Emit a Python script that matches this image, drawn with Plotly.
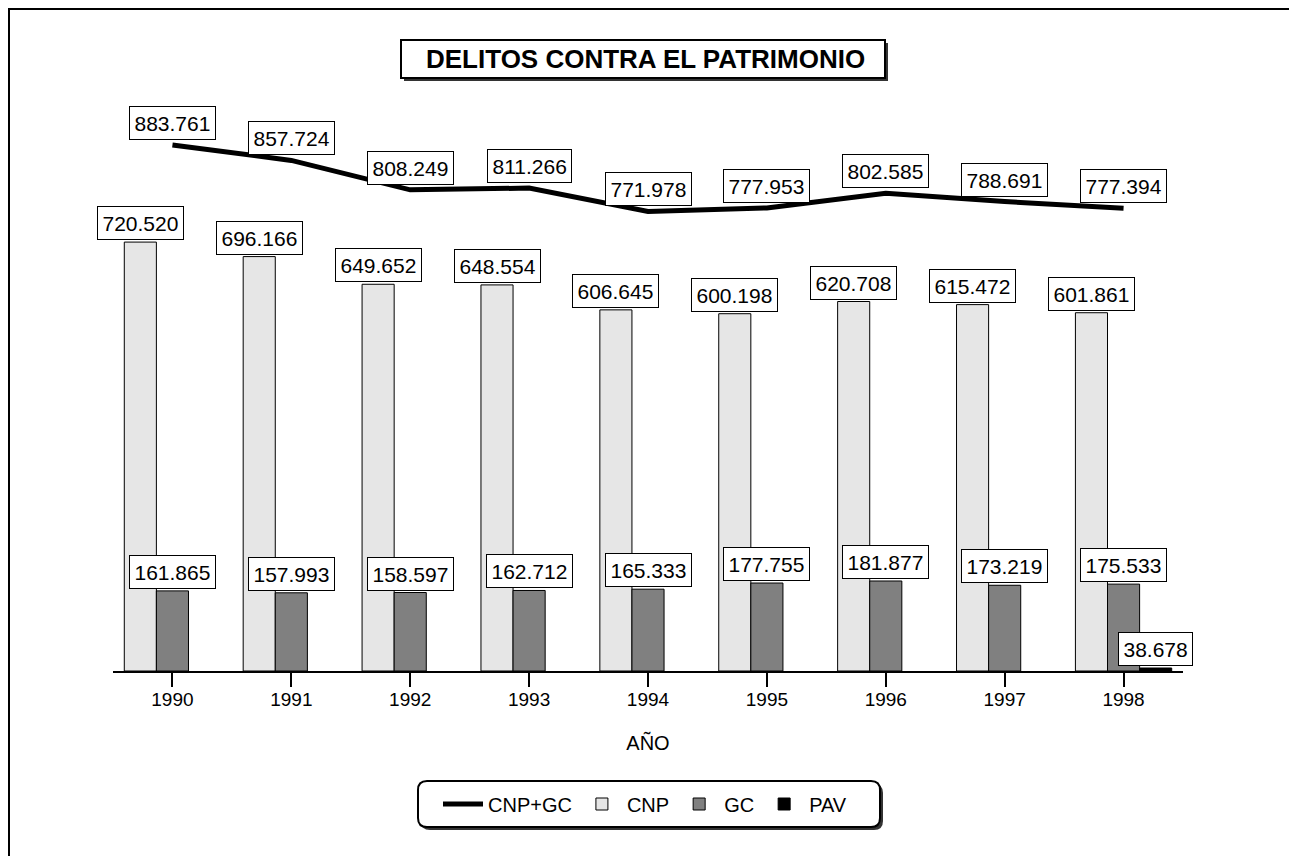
import plotly.graph_objects as go

# data (counts per year)
years = ["1990", "1991", "1992", "1993", "1994", "1995", "1996", "1997", "1998"]
cnp_gc = [883761, 857724, 808249, 811266, 771978, 777953, 802585, 788691, 777394]
cnp = [720520, 696166, 649652, 648554, 606645, 600198, 620708, 615472, 601861]
gc = [161865, 157993, 158597, 162712, 165333, 177755, 181877, 173219, 175533]
pav = [None, None, None, None, None, None, None, None, 38678]

# page is 1297x864 but the body has an 8px margin
OFF = 8
W, H = 1297 - OFF, 864 - 2 * OFF
FONT = "Liberation Sans, Arial, sans-serif"


def fx(px):
    return (px - OFF) / W


def fy(py):
    return 1 - (py - OFF) / H


def fmt(v):
    return f"{v:,}".replace(",", ".")


BW = 0.27  # bar width in category units

fig = go.Figure()

fig.add_trace(go.Scatter(
    x=years, y=cnp_gc, name="CNP+GC", mode="lines",
    line=dict(color="black", width=5), yaxis="y",
))
fig.add_trace(go.Bar(
    x=years, y=cnp, name="CNP", width=BW, offset=-1.5 * BW,
    marker=dict(color="#e6e6e6", line=dict(color="black", width=1)), yaxis="y",
))
fig.add_trace(go.Bar(
    x=years, y=gc, name="GC", width=BW, offset=-0.5 * BW,
    marker=dict(color="#808080", line=dict(color="black", width=1)), yaxis="y2",
))
fig.add_trace(go.Bar(
    x=years, y=pav, name="PAV", width=BW, offset=0.5 * BW,
    marker=dict(color="black", line=dict(color="black", width=1)), yaxis="y3",
))

# value labels in boxes
lab = dict(showarrow=False, bgcolor="white", bordercolor="black", borderwidth=1,
           borderpad=4.5, font=dict(family=FONT, size=21, color="black"),
           xref="x", yanchor="bottom")
annotations = []
for i, v in enumerate(cnp_gc):
    annotations.append(dict(lab, x=i, y=v, yref="y", text=fmt(v), yshift=5))
for i, v in enumerate(cnp):
    annotations.append(dict(lab, x=i - BW, y=v, yref="y", text=fmt(v), yshift=2))
for i, v in enumerate(gc):
    annotations.append(dict(lab, x=i, y=v, yref="y2", text=fmt(v), yshift=2))
for i, v in enumerate(pav):
    if v is not None:
        annotations.append(dict(lab, x=i + BW, y=v, yref="y3", text=fmt(v), yshift=2))

# title
annotations.append(dict(
    text="<b>DELITOS CONTRA EL PATRIMONIO</b>", showarrow=False,
    xref="paper", yref="paper", x=fx(645), y=fy(59), xanchor="center", yanchor="middle",
    font=dict(family=FONT, size=26, color="black"),
))


def rounded(x0, y0, x1, y1, r):
    pts = [
        f"M{fx(x0 + r)},{fy(y0)}", f"L{fx(x1 - r)},{fy(y0)}",
        f"Q{fx(x1)},{fy(y0)} {fx(x1)},{fy(y0 + r)}", f"L{fx(x1)},{fy(y1 - r)}",
        f"Q{fx(x1)},{fy(y1)} {fx(x1 - r)},{fy(y1)}", f"L{fx(x0 + r)},{fy(y1)}",
        f"Q{fx(x0)},{fy(y1)} {fx(x0)},{fy(y1 - r)}", f"L{fx(x0)},{fy(y0 + r)}",
        f"Q{fx(x0)},{fy(y0)} {fx(x0 + r)},{fy(y0)}", "Z",
    ]
    return " ".join(pts)


shapes = [
    # outer frame
    dict(type="rect", xref="paper", yref="paper", x0=fx(9), x1=fx(1295), y0=fy(9), y1=fy(900),
         line=dict(color="black", width=2), layer="below"),
    # title box + shadow
    dict(type="rect", xref="paper", yref="paper", x0=fx(404), x1=fx(888), y0=fy(43), y1=fy(81),
         fillcolor="#333333", line=dict(width=0)),
    dict(type="rect", xref="paper", yref="paper", x0=fx(401), x1=fx(885), y0=fy(40), y1=fy(78),
         fillcolor="white", line=dict(color="black", width=2)),
    # legend box + shadow
    dict(type="path", xref="paper", yref="paper", path=rounded(421, 784, 883, 830, 9),
         fillcolor="#333333", line=dict(width=0)),
    dict(type="path", xref="paper", yref="paper", path=rounded(418, 781, 880, 827, 9),
         fillcolor="white", line=dict(color="black", width=2)),
]

fig.update_layout(
    width=W, height=H, autosize=False,
    margin=dict(l=0, r=0, t=0, b=0),
    paper_bgcolor="white", plot_bgcolor="white",
    font=dict(family=FONT, color="black"),
    showlegend=True,
    legend=dict(orientation="h", x=fx(645), y=fy(804), xanchor="center", yanchor="middle",
                bgcolor="rgba(0,0,0,0)", borderwidth=0, itemwidth=40,
                font=dict(family=FONT, size=20, color="black"), traceorder="normal"),
    xaxis=dict(type="category", domain=[fx(113), fx(1183)], range=[-0.5, 8.5],
               showgrid=False, zeroline=False, showline=True, linecolor="black", linewidth=1.5,
               ticks="outside", ticklen=14, tickcolor="black", tickwidth=1.5,
               ticklabelstandoff=-4,
               tickfont=dict(family=FONT, size=19, color="black"),
               title=dict(text="AÑO", font=dict(family=FONT, size=20, color="black"), standoff=27)),
    yaxis=dict(domain=[fy(671), fy(90)], range=[0, 976000], visible=False),
    yaxis2=dict(overlaying="y", range=[0, 1174000], visible=False),
    yaxis3=dict(overlaying="y", range=[0, 7500000], visible=False),
    annotations=annotations,
    shapes=shapes,
)

fig.write_html("out.html")
